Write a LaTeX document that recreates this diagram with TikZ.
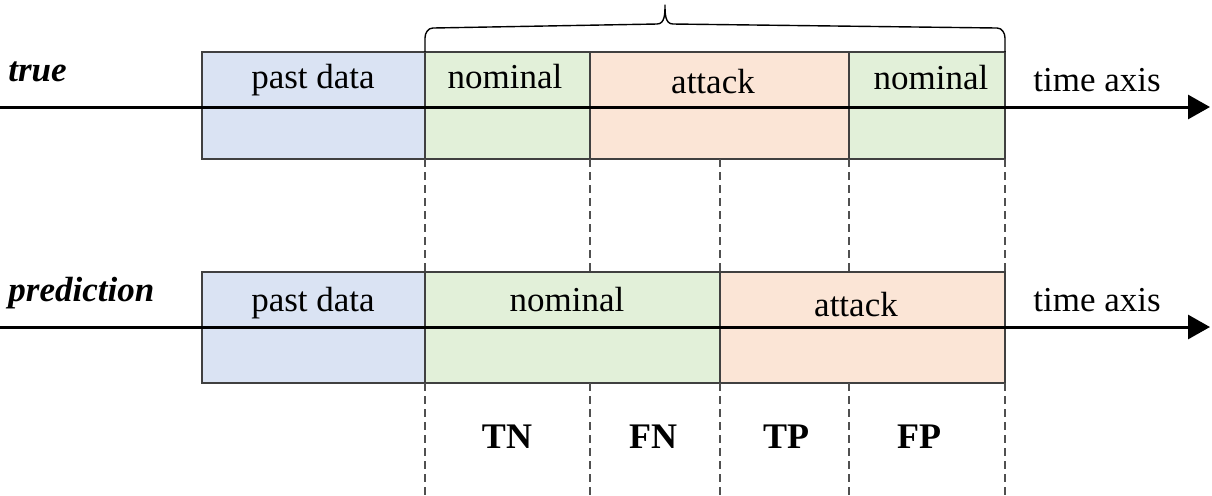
\documentclass[tikz,border=0pt]{standalone}
\usepackage{fontspec}
\setmainfont{Liberation Serif}
\usetikzlibrary{arrows.meta,calc}
\definecolor{pastF}{HTML}{DAE3F3}
\definecolor{nomF}{HTML}{E2F0D9}
\definecolor{attF}{HTML}{FBE5D6}
\definecolor{edgeC}{HTML}{404040}
\definecolor{dashC}{HTML}{505050}
\begin{document}
\begin{tikzpicture}[x=0.5pt,y=-0.5pt,
  seg/.style={draw=edgeC, line width=0.8pt, inner sep=0pt, outer sep=0pt, anchor=north west},
  lbl/.style={font=\fontsize{17.5}{20}\selectfont, inner sep=0pt},
  rowlbl/.style={font=\fontsize{17.5}{20}\selectfont\bfseries\itshape, inner sep=0pt, anchor=west},
  res/.style={font=\fontsize{18}{20}\selectfont\bfseries, inner sep=0pt},
  axis/.style={line width=1.5pt, -{Triangle[length=11pt,width=12pt]}},
  dashln/.style={draw=dashC, line width=0.9pt, dash pattern=on 4pt off 2.5pt}]
\useasboundingbox (0,0) rectangle (1212,495);
% top row boxes
\node[seg, fill=pastF, minimum width=111.5pt, minimum height=53.5pt] (t1) at (202,52) {};
\node[seg, fill=nomF, minimum width=82.5pt, minimum height=53.5pt] (t2) at (425,52) {};
\node[seg, fill=attF, minimum width=129.5pt, minimum height=53.5pt] (t3) at (590,52) {};
\node[seg, fill=nomF, minimum width=78pt, minimum height=53.5pt] (t4) at (849,52) {};
% bottom row boxes
\node[seg, fill=pastF, minimum width=111.5pt, minimum height=55.5pt] (p1) at (202,272) {};
\node[seg, fill=nomF, minimum width=147.5pt, minimum height=55.5pt] (p2) at (425,272) {};
\node[seg, fill=attF, minimum width=142.5pt, minimum height=55.5pt] (p3) at (720,272) {};
% axes
\coordinate (ta0) at (0,107);
\coordinate (ta1) at (1210,107);
\coordinate (pa0) at (0,327);
\coordinate (pa1) at (1210,327);
\draw[axis] (ta0) -- (ta1);
\draw[axis] (pa0) -- (pa1);
% labels
\node[rowlbl] (ltrue) at (8,72) {true};
\node[rowlbl] (lpred) at (8,293) {prediction};
\node[lbl] (x1) at (313,80) {past data};
\node[lbl] (x2) at (505,77) {nominal};
\node[lbl] (x3) at (713,82) {attack};
\node[lbl] (x4) at (931,78) {nominal};
\node[lbl] (x5) at (1097,80) {time axis};
\node[lbl] (y1) at (313,303) {past data};
\node[lbl] (y2) at (567,300) {nominal};
\node[lbl] (y3) at (856,305) {attack};
\node[lbl] (y5) at (1097,300) {time axis};
\node[res] (r1) at (507,437) {TN};
\node[res] (r2) at (653,437) {FN};
\node[res] (r3) at (786,437) {TP};
\node[res] (r4) at (919,437) {FP};
% dashed separators between rows
\draw[dashln] (t2.south west) -- (p2.north west);
\draw[dashln] (t3.south west) -- (t3.south west |- p2.north);
\draw[dashln] (p3.north west |- t3.south) -- (p3.north west);
\draw[dashln] (t4.south west) -- (t4.south west |- p2.north);
\draw[dashln] (t4.south east) -- (p3.north east);
% dashed separators below
\coordinate (b1) at (425,495);
\coordinate (b2) at (590,495);
\coordinate (b3) at (720,495);
\coordinate (b4) at (849,495);
\coordinate (b5) at (1005,495);
\draw[dashln] (p2.south west) -- (b1);
\draw[dashln] (p2.south west -| b2) -- (b2);
\draw[dashln] (p3.south west) -- (b3);
\draw[dashln] (p3.south west -| b4) -- (b4);
\draw[dashln] (p3.south east) -- (b5);
% brace
\coordinate (bl) at (t2.north west);
\coordinate (br) at (t4.north east);
\coordinate (bt) at (665,5);
\draw[line width=0.7pt, line join=round]
  (bl) -- ($(bl)+(0,-14)$) to[out=90,in=180] ($(bl)+(8,-24)$)
  -- (657,24) to[out=0,in=-90] (bt) to[out=-90,in=180] (673,24)
  -- ($(br)+(-8,-24)$) to[out=0,in=90] ($(br)+(0,-14)$) -- (br);
\end{tikzpicture}
\end{document}
